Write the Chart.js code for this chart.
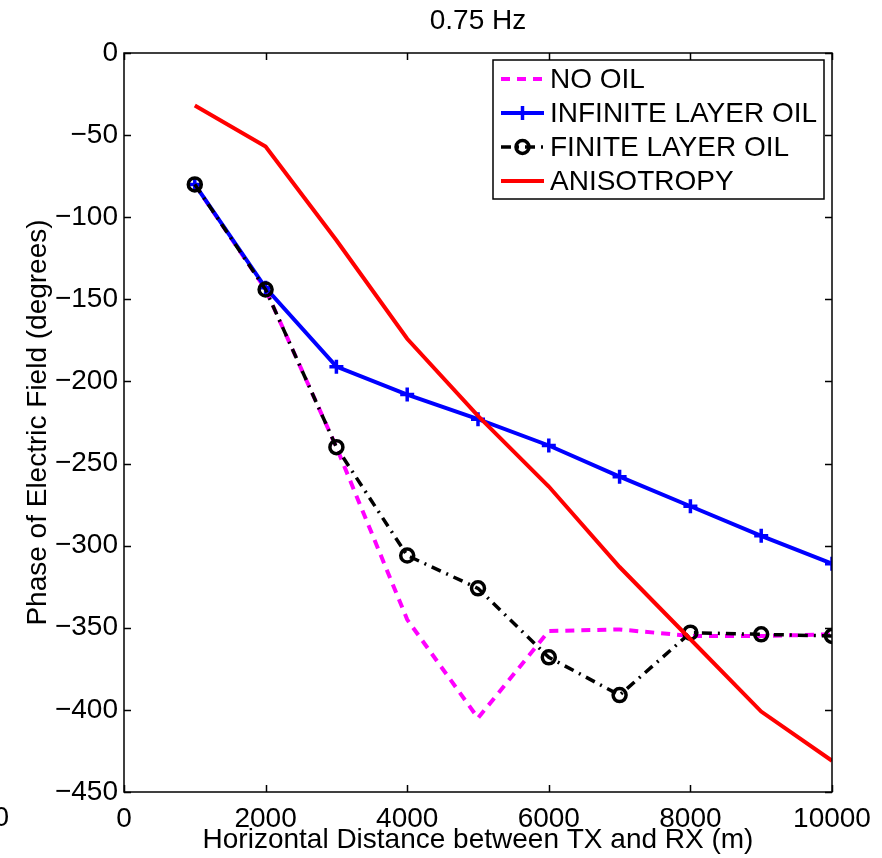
<!DOCTYPE html>
<html>
<head>
<meta charset="utf-8">
<script src="https://cdn.jsdelivr.net/npm/chart.js@4.4.0/dist/chart.umd.min.js"></script>
<style>
html,body{margin:0;padding:0;background:#fff;}
#wrap{width:882px;height:858px;position:relative;}
</style>
</head>
<body>
<div id="wrap"><canvas id="c" width="882" height="858"></canvas></div>
<script>
const titleText = '0.75 Hz';
const xLabel = 'Horizontal Distance between TX and RX (m)';
const yLabel = 'Phase of Electric Field (degrees)';
const distances = [1000, 2000, 3000, 4000, 5000, 6000, 7000, 8000, 9000, 10000];
const noOil      = [-80, -144, -240, -345, -405, -352, -351, -355, -355, -354];
const infinite   = [-80, -143, -191, -208, -223, -239, -258, -276, -294, -311];
const finite     = [-80, -144, -240, -306, -326, -368, -391, -353, -354, -355];
const anisotropy = [-32, -57, -114, -174, -221, -264, -313, -357, -401, -431];
const seriesNames = ['NO OIL', 'INFINITE LAYER OIL', 'FINITE LAYER OIL', 'ANISOTROPY'];
const xTicks = [0, 2000, 4000, 6000, 8000, 10000];
const yTicks = [0, -50, -100, -150, -200, -250, -300, -350, -400, -450];

const FONT = '"Liberation Sans", Arial, Helvetica, sans-serif';
const FS = 28;

function pts(ys){ return distances.map((x,i)=>({x:x, y:ys[i]})); }
function fmt(v){ return String(v).replace('-', '\u2212'); }

const datasets = [
  {label: seriesNames[0], data: pts(noOil), borderColor:'#ff00ff', borderWidth:4, borderDash:[9,7],
   pointRadius:0, order:3, fill:false, tension:0},
  {label: seriesNames[1], data: pts(infinite), borderColor:'#0000ff', borderWidth:4,
   pointStyle:'cross', pointRadius:7, pointBorderWidth:3.5, pointBorderColor:'#0000ff', order:2, fill:false, tension:0},
  {label: seriesNames[2], data: pts(finite), borderColor:'#000000', borderWidth:3.5, borderDash:[10,6,2,6],
   pointStyle:'circle', pointRadius:6.5, pointBorderWidth:3.5, pointBorderColor:'#000000', pointBackgroundColor:'rgba(0,0,0,0)', order:1, fill:false, tension:0},
  {label: seriesNames[3], data: pts(anisotropy), borderColor:'#ff0000', borderWidth:4,
   pointRadius:0, order:0, fill:false, tension:0}
];

const matlabPlugin = {
  id:'matlab',
  afterDatasetsDraw(chart){
    const ctx = chart.ctx, a = chart.chartArea;
    const xs = chart.scales.x, ys = chart.scales.y;
    ctx.save();
    ctx.strokeStyle = '#000';
    ctx.lineWidth = 1.5;
    const tl = 7;
    ctx.beginPath();
    xTicks.forEach(v=>{
      const px = Math.round(xs.getPixelForValue(v))+0.5;
      ctx.moveTo(px, a.bottom); ctx.lineTo(px, a.bottom - tl);
      ctx.moveTo(px, a.top); ctx.lineTo(px, a.top + tl);
    });
    yTicks.forEach(v=>{
      const py = Math.round(ys.getPixelForValue(v))+0.5;
      ctx.moveTo(a.left, py); ctx.lineTo(a.left + tl, py);
      ctx.moveTo(a.right, py); ctx.lineTo(a.right - tl, py);
    });
    ctx.stroke();
    ctx.strokeRect(a.left, a.top, a.right - a.left, a.bottom - a.top);

    // legend
    const lx = 493, ly = 60, lw = 331, lh = 139;
    ctx.fillStyle = '#fff';
    ctx.fillRect(lx, ly, lw, lh);
    ctx.lineWidth = 1.5;
    ctx.strokeStyle = '#000';
    ctx.strokeRect(lx, ly, lw, lh);
    const rowY = [79, 113, 147, 181];
    chart.data.datasets.forEach((ds, i)=>{
      const y = rowY[i];
      ctx.save();
      ctx.strokeStyle = ds.borderColor;
      ctx.lineWidth = ds.borderWidth;
      ctx.setLineDash(ds.borderDash || []);
      ctx.beginPath(); ctx.moveTo(501, y); ctx.lineTo(544, y); ctx.stroke();
      ctx.setLineDash([]);
      if (ds.pointStyle === 'cross'){
        ctx.lineWidth = 3.5; ctx.beginPath();
        ctx.moveTo(522.5, y-7); ctx.lineTo(522.5, y+7); ctx.stroke();
      } else if (ds.pointStyle === 'circle'){
        ctx.lineWidth = 3.5; ctx.beginPath();
        ctx.arc(522.5, y, 6.5, 0, Math.PI*2); ctx.stroke();
      }
      ctx.restore();
      ctx.fillStyle = '#000';
      ctx.font = FS + 'px ' + FONT;
      ctx.textAlign = 'left';
      ctx.textBaseline = 'middle';
      ctx.fillText(ds.label, 550, y + 1);
    });

    // title
    ctx.fillStyle = '#000';
    ctx.font = FS + 'px ' + FONT;
    ctx.textAlign = 'center';
    ctx.textBaseline = 'middle';
    ctx.fillText(titleText, (a.left + a.right)/2, 21);
    // clipped neighbouring tick label
    ctx.textAlign = 'right';
    ctx.fillText('0', 9, 818);
    ctx.restore();
  }
};

new Chart(document.getElementById('c'), {
  type:'line',
  data:{datasets},
  plugins:[matlabPlugin],
  options:{
    responsive:false,
    animation:false,
    events:[],
    layout:{padding:{left:0, right:50, top:53, bottom:0}},
    plugins:{legend:{display:false}, title:{display:false}, tooltip:{enabled:false}},
    scales:{
      x:{type:'linear', min:0, max:10000,
        afterBuildTicks(s){ s.ticks = xTicks.map(v=>({value:v})); },
        afterFit(s){ s.height = 66; },
        grid:{display:false, drawTicks:false}, border:{display:false},
        ticks:{color:'#000', font:{family:FONT, size:FS}, padding:10, maxRotation:0, autoSkip:false,
          callback:(v)=>fmt(v)},
        title:{display:true, text:xLabel, color:'#000', font:{family:FONT, size:FS}, padding:{top:0,bottom:1}}
      },
      y:{type:'linear', min:-450, max:0,
        afterBuildTicks(s){ s.ticks = yTicks.map(v=>({value:v})); },
        afterFit(s){ s.width = 124; },
        grid:{display:false, drawTicks:false}, border:{display:false},
        ticks:{color:'#000', font:{family:FONT, size:FS}, padding:6, autoSkip:false,
          callback:(v)=>fmt(v)},
        title:{display:true, text:yLabel, color:'#000', font:{family:FONT, size:FS}, padding:{top:21,bottom:0}}
      }
    }
  }
});
</script>
</body>
</html>
